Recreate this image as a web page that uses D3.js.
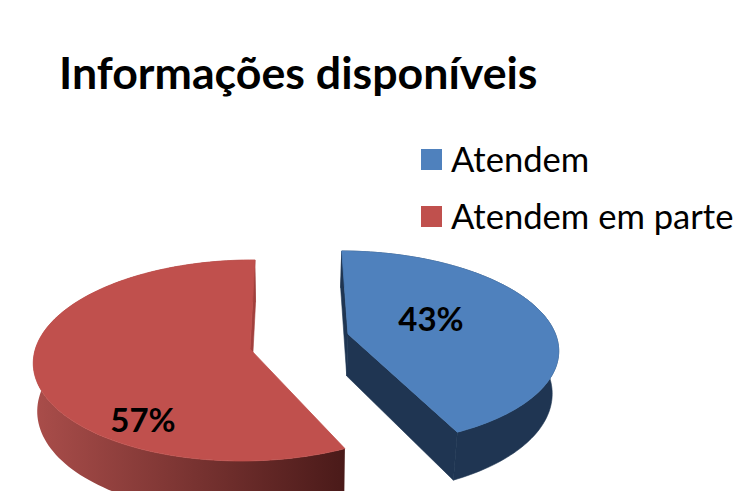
<!DOCTYPE html>
<html>
<head>
<meta charset="utf-8">
<script src="https://cdn.jsdelivr.net/npm/d3@7"></script>
<style>
  html, body { margin: 0; padding: 0; background: #fff; overflow: hidden; }
  text { font-family: Lato, "Open Sans", sans-serif; fill: #000; }
</style>
</head>
<body>
<div id="chart"></div>
<script>
const categories = ["Atendem", "Atendem em parte"];
const values = [43, 57];
const labels = ["43%", "57%"];
const colors = ["#4F81BD", "#C0504D"];
const title = "Informações disponíveis";

const width = 733, height = 491;

const svg = d3.select("#chart").append("svg")
    .attr("width", width)
    .attr("height", height);

// fake 3d: unit circle -> screen, front of the pie is closer to the camera
const centerX = 298, centerY = 349;
const skew = 0.01;
const sliceViews = [
    { x: 50, y: -15, rx: 210, ry: 94.9, persp: 0.143, depth: 42, shrink: 0.975 },
    { x: -48, y: 0, rx: 212, ry: 99.2, persp: 0.114, depth: 47, shrink: 0.985 }
];

function project(angle, r, view, low) {
    const ux = r * Math.sin(angle);
    const uy = -r * Math.cos(angle);
    const w = 1 - view.persp * uy + skew * ux;
    let x = (view.rx * ux + view.x) / w;
    let y = view.ry * uy / w + view.y;
    if (low) {
        x *= view.shrink;
        y += view.depth / w;
    }
    return [centerX + x, centerY + y];
}

const pieData = d3.pie().sort(null)(values);

const defs = svg.append("defs");
const wallGrad = defs.append("linearGradient")
    .attr("id", "redWall")
    .attr("gradientUnits", "userSpaceOnUse")
    .attr("x1", 36).attr("x2", 345)
    .attr("y1", 0).attr("y2", 0);
wallGrad.append("stop").attr("offset", "0%").attr("stop-color", "#A94D4A");
wallGrad.append("stop").attr("offset", "100%").attr("stop-color", "#4A1A19");

const line = d3.line();
const wallColors = ["#1F3552", "url(#redWall)"];
const sideColors = ["#1F3552", "#A2403D"];

pieData.forEach((d, i) => {
    const steps = d3.range(0, 121).map(s => d.startAngle + (d.endAngle - d.startAngle) * s / 120);
    const view = sliceViews[i];
    const g = svg.append("g");

    // outer wall
    const rimTop = steps.map(a => project(a, 1, view, false));
    const rimLow = steps.map(a => project(a, 1, view, true)).reverse();
    g.append("path")
        .attr("d", line(rimTop.concat(rimLow)) + "Z")
        .attr("fill", wallColors[i])
        .attr("stroke", i === 0 ? wallColors[i] : "none")
        .attr("stroke-width", 0.6);

    // cut faces, the red start face looks away from the camera
    const cuts = i === 0 ? [d.startAngle, d.endAngle] : [d.endAngle];
    cuts.forEach(a => {
        g.append("path")
            .attr("d", line([
                project(a, 1, view, false),
                project(a, 1, view, true),
                project(a, 0, view, true),
                project(a, 0, view, false)
            ]) + "Z")
            .attr("fill", sideColors[i])
            .attr("stroke", sideColors[i])
            .attr("stroke-width", 0.6);
    });

    // top face
    g.append("path")
        .attr("d", line(rimTop.concat([project(0, 0, view, false)])) + "Z")
        .attr("fill", colors[i])
        .attr("stroke", colors[i])
        .attr("stroke-width", 0.8);
});

svg.append("text")
    .attr("x", 59)
    .attr("y", 89)
    .style("font-size", "44.7px")
    .style("font-weight", "bold")
    .text(title);

const legend = svg.selectAll(".legend")
    .data(categories)
    .enter().append("g")
    .attr("class", "legend")
    .attr("transform", (d, i) => `translate(421,${149 + i * 57})`);

legend.append("rect")
    .attr("width", 21)
    .attr("height", 21)
    .attr("fill", (d, i) => colors[i]);

legend.append("text")
    .attr("x", 30)
    .attr("y", 23)
    .style("font-size", "34.6px")
    .text(d => d);

const labelPos = [[431, 331], [143, 432]];
svg.selectAll(".pct")
    .data(labels)
    .enter().append("text")
    .attr("class", "pct")
    .attr("x", (d, i) => labelPos[i][0])
    .attr("y", (d, i) => labelPos[i][1])
    .attr("text-anchor", "middle")
    .style("font-size", "33px")
    .style("font-weight", "bold")
    .text(d => d);
</script>
</body>
</html>
